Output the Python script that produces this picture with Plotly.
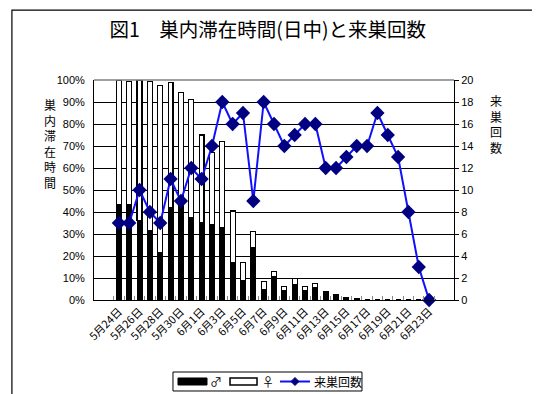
import plotly.graph_objects as go

dates = ["5月24日", "5月25日", "5月26日", "5月27日", "5月28日", "5月29日", "5月30日", "5月31日",
         "6月1日", "6月2日", "6月3日", "6月4日", "6月5日", "6月6日", "6月7日", "6月8日",
         "6月9日", "6月10日", "6月11日", "6月12日", "6月13日", "6月14日", "6月15日", "6月16日",
         "6月17日", "6月18日", "6月19日", "6月20日", "6月21日", "6月22日", "6月23日"]
male = [43.5, 43.5, 36, 31.5, 21.5, 42, 43, 37.5, 35, 34.5, 33, 17, 9, 24, 4.7, 10.8,
        4.5, 7, 4.5, 5.8, 3.8, 2.6, 1, 0.6, 0, 0, 0, 0, 0, 0, 0]
female = [56.5, 56, 64, 68, 76, 57, 51.5, 53.5, 40, 32.5, 39, 23.5, 8, 7, 3.6, 2.1,
          1.5, 2.7, 1.5, 1.6, 0, 0, 0, 0, 0, 0, 0, 0, 0, 0, 0]
visits = [7, 7, 10, 8, 7, 11, 9, 12, 11, 14, 18, 16, 17, 9, 18, 16, 14, 15, 16, 16,
          12, 12, 13, 14, 14, 17, 15, 13, 8, 3, 0]
tick_text = [d if i % 2 == 0 else "" for i, d in enumerate(dates)]
legend_labels = ["♂", "♀", "来巣回数"]

FONT = "Liberation Sans, Arial, Noto Sans CJK JP"
JP = "Noto Sans CJK JP"
LINE_BLUE = "#1010ff"
NAVY = "#000080"

fig = go.Figure()
fig.add_trace(go.Bar(x=dates, y=male, name=legend_labels[0], marker=dict(color="black", line=dict(color="black", width=1))))
fig.add_trace(go.Bar(x=dates, y=female, name=legend_labels[1], marker=dict(color="white", line=dict(color="black", width=1.2))))
fig.add_trace(go.Scatter(x=dates, y=visits, name=legend_labels[2], yaxis="y2", mode="lines+markers",
                         line=dict(color=LINE_BLUE, width=2),
                         marker=dict(symbol="diamond", size=11, color=NAVY),
                         cliponaxis=False))

# Legend box drawn in paper coordinates (Excel-style compact legend)
ly = -0.3705
dx, dy = 0.0111, 0.0182
dcx = 0.5583
legend_shapes = [
    dict(type="rect", xref="paper", yref="paper", x0=0.2194, x1=0.7444, y0=-0.4136, y1=-0.3273,
         line=dict(color="black", width=1), fillcolor="white"),
    dict(type="rect", xref="paper", yref="paper", x0=0.2333, x1=0.3139, y0=-0.3864, y1=-0.3545,
         line=dict(color="black", width=1), fillcolor="black"),
    dict(type="rect", xref="paper", yref="paper", x0=0.3778, x1=0.4528, y0=-0.3864, y1=-0.3545,
         line=dict(color="black", width=1.5), fillcolor="white"),
    dict(type="line", xref="paper", yref="paper", x0=0.5167, x1=0.6, y0=ly, y1=ly,
         line=dict(color=LINE_BLUE, width=2)),
    dict(type="path", xref="paper", yref="paper",
         path=f"M {dcx},{ly+dy} L {dcx+dx},{ly} L {dcx},{ly-dy} L {dcx-dx},{ly} Z",
         line=dict(color=NAVY, width=1), fillcolor=NAVY),
]
legend_texts = [
    dict(text=legend_labels[0], xref="paper", yref="paper", x=0.339, y=ly, showarrow=False,
         xanchor="center", yanchor="middle", font=dict(family=JP, size=12)),
    dict(text=legend_labels[1], xref="paper", yref="paper", x=0.4833, y=ly, showarrow=False,
         xanchor="center", yanchor="middle", font=dict(family=JP, size=12)),
    dict(text=legend_labels[2], xref="paper", yref="paper", x=0.6056, y=ly, showarrow=False,
         xanchor="left", yanchor="middle", font=dict(family=JP, size=12)),
]

# page body adds an 8px offset; margins compensate so the plot area lands at x 94-454, y 80-300
fig.update_layout(
    width=540, height=394,
    margin=dict(l=86, r=94, t=72, b=102, autoexpand=False),
    paper_bgcolor="white", plot_bgcolor="white",
    barmode="stack", bargap=0.52,
    font=dict(family=FONT, size=11, color="black"),
    showlegend=False,
    title=dict(text="図1　巣内滞在時間(日中)と来巣回数", x=0.481, xanchor="center",
               y=0.944, yanchor="middle", font=dict(family=JP, size=19.5, color="black")),
    xaxis=dict(type="category", tickmode="array", tickvals=dates, ticktext=tick_text,
               tickangle=-45, tickson="boundaries", ticks="inside", ticklen=4, tickcolor="#888",
               showline=True, linecolor="black", linewidth=1, showgrid=False, automargin=False,
               tickfont=dict(family=JP, size=11)),
    yaxis=dict(range=[0, 100], dtick=10, ticksuffix="%", showgrid=True, gridcolor="black", gridwidth=1,
               showline=True, linecolor="black", linewidth=1, zeroline=False, ticks="",
               automargin=False, ticklabelstandoff=6, tickfont=dict(size=11)),
    yaxis2=dict(range=[0, 20], dtick=2, overlaying="y", side="right", showgrid=False,
                showline=True, linecolor="black", linewidth=1, ticks="outside", ticklen=4,
                tickcolor="black", zeroline=False, automargin=False, tickfont=dict(size=11)),
    shapes=[
        dict(type="rect", xref="paper", yref="paper", x0=-0.228, x1=1.3, y0=-0.46, y1=1.318,
             line=dict(color="black", width=1.2), fillcolor="rgba(0,0,0,0)", layer="below"),
        dict(type="line", xref="paper", yref="paper", x0=0, x1=1, y0=1, y1=1,
             line=dict(color="#808080", width=1.5)),
    ] + legend_shapes,
    annotations=[
        dict(text="巣<br>内<br>滞<br>在<br>時<br>間", xref="paper", yref="paper", x=-0.122, y=0.71,
             showarrow=False, font=dict(family=JP, size=12), align="center", xanchor="center", yanchor="middle"),
        dict(text="来<br>巣<br>回<br>数", xref="paper", yref="paper", x=1.117, y=0.8,
             showarrow=False, font=dict(family=JP, size=12), align="center", xanchor="center", yanchor="middle"),
    ] + legend_texts,
)

fig.write_html("out.html")
